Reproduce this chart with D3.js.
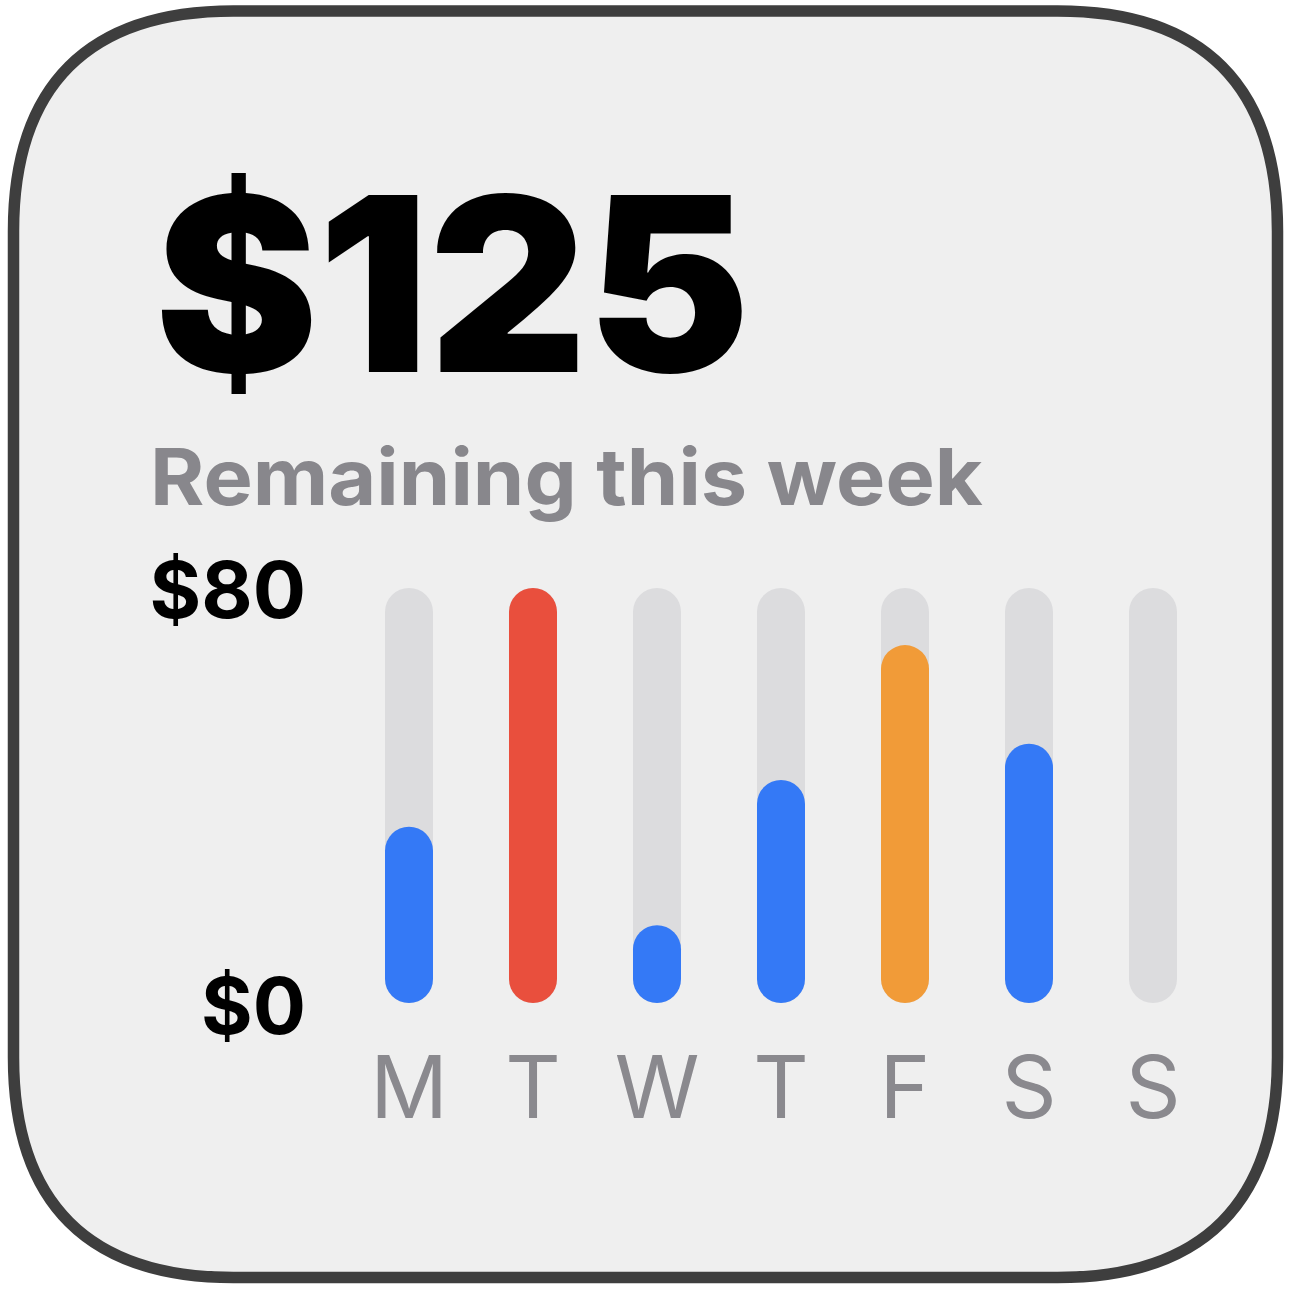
<!DOCTYPE html>
<html>
<head>
<meta charset="utf-8">
<script src="https://cdn.jsdelivr.net/npm/d3@7"></script>
<style>
  html, body { margin: 0; padding: 0; background: #ffffff; }
  svg { display: block; }
</style>
</head>
<body>
<svg id="chart" width="1291" height="1289"></svg>
<script>
// ---- data ----
const days = ["M", "T", "W", "T", "F", "S", "S"];
const spent = [34, 80, 15, 43, 69, 50, 0];
const yTicks = [0, 80];
const headline = "$125";
const subtitle = "Remaining this week";
const thresholds = [60, 80];
const statusColors = ["#3479f6", "#f19b38", "#e94f3d"];

const svg = d3.select("#chart");

// ---- card ----
const x0 = 13.5, y0 = 11, x1 = 1277.5, y1 = 1277.5, R = 220, k = 0.34;
const cardPath = `M${x0+R},${y0} L${x1-R},${y0} C${x1-k*R},${y0} ${x1},${y0+k*R} ${x1},${y0+R}
 L${x1},${y1-R} C${x1},${y1-k*R} ${x1-k*R},${y1} ${x1-R},${y1}
 L${x0+R},${y1} C${x0+k*R},${y1} ${x0},${y1-k*R} ${x0},${y1-R}
 L${x0},${y0+R} C${x0},${y0+k*R} ${x0+k*R},${y0} ${x0+R},${y0} Z`;
svg.append("path").attr("d", cardPath)
  .attr("fill", "#efefef").attr("stroke", "#3e3e3e").attr("stroke-width", 11.5);

function fitWidth(sel, xStart, targetW) {
  const bb = sel.node().getBBox();
  const s = targetW / bb.width;
  sel.attr("transform", `translate(${xStart},0) scale(${s},1) translate(${-bb.x},0)`);
}

// ---- headline ----
const h = svg.append("text")
  .attr("x", 0).attr("y", 372)
  .attr("font-family", "Inter, 'Noto Sans', sans-serif")
  .attr("font-weight", 900).attr("font-size", 243)
  .attr("fill", "#000").text(headline);
fitWidth(h, 155, 595);

const st = svg.append("text")
  .attr("x", 0).attr("y", 505)
  .attr("font-family", "Inter, 'Noto Sans', sans-serif")
  .attr("font-weight", 700).attr("font-size", 78)
  .attr("fill", "#88878c").text(subtitle);
fitWidth(st, 150, 833);

// ---- scales ----
const x = d3.scaleBand().domain(d3.range(days.length))
  .range([385, 1177]).paddingInner(0.6129).paddingOuter(0);
const y = d3.scaleLinear().domain([0, 80]).range([1003, 588]);
const color = d3.scaleThreshold().domain(thresholds).range(statusColors);
const bw = x.bandwidth();

// tracks
svg.append("g").selectAll("rect").data(days).join("rect")
  .attr("x", (d, i) => x(i)).attr("width", bw)
  .attr("y", y(80)).attr("height", y(0) - y(80))
  .attr("rx", bw / 2).attr("ry", bw / 2)
  .attr("fill", "#dcdcde");

// values
svg.append("g").selectAll("rect").data(spent.map((v, i) => ({v, i})).filter(d => d.v > 0)).join("rect")
  .attr("x", d => x(d.i)).attr("width", bw)
  .attr("y", d => y(d.v)).attr("height", d => y(0) - y(d.v))
  .attr("rx", bw / 2).attr("ry", bw / 2)
  .attr("fill", d => color(d.v));

// y labels
const yBase = {80: 618, 0: 1034};
svg.append("g").selectAll("text").data(yTicks).join("text")
  .attr("x", 306).attr("y", d => yBase[d])
  .attr("text-anchor", "end")
  .attr("font-family", "Inter, 'Noto Sans', sans-serif")
  .attr("font-weight", 700).attr("font-size", 79)
  .attr("fill", "#000")
  .text(d => "$" + d);

// x labels
svg.append("g").selectAll("text").data(days).join("text")
  .attr("x", (d, i) => x(i) + bw / 2).attr("y", 1118)
  .attr("text-anchor", "middle")
  .attr("font-family", "Inter, 'Noto Sans', sans-serif")
  .attr("font-weight", 400).attr("font-size", 86)
  .attr("fill", "#8a898e")
  .text(d => d);
</script>
</body>
</html>
